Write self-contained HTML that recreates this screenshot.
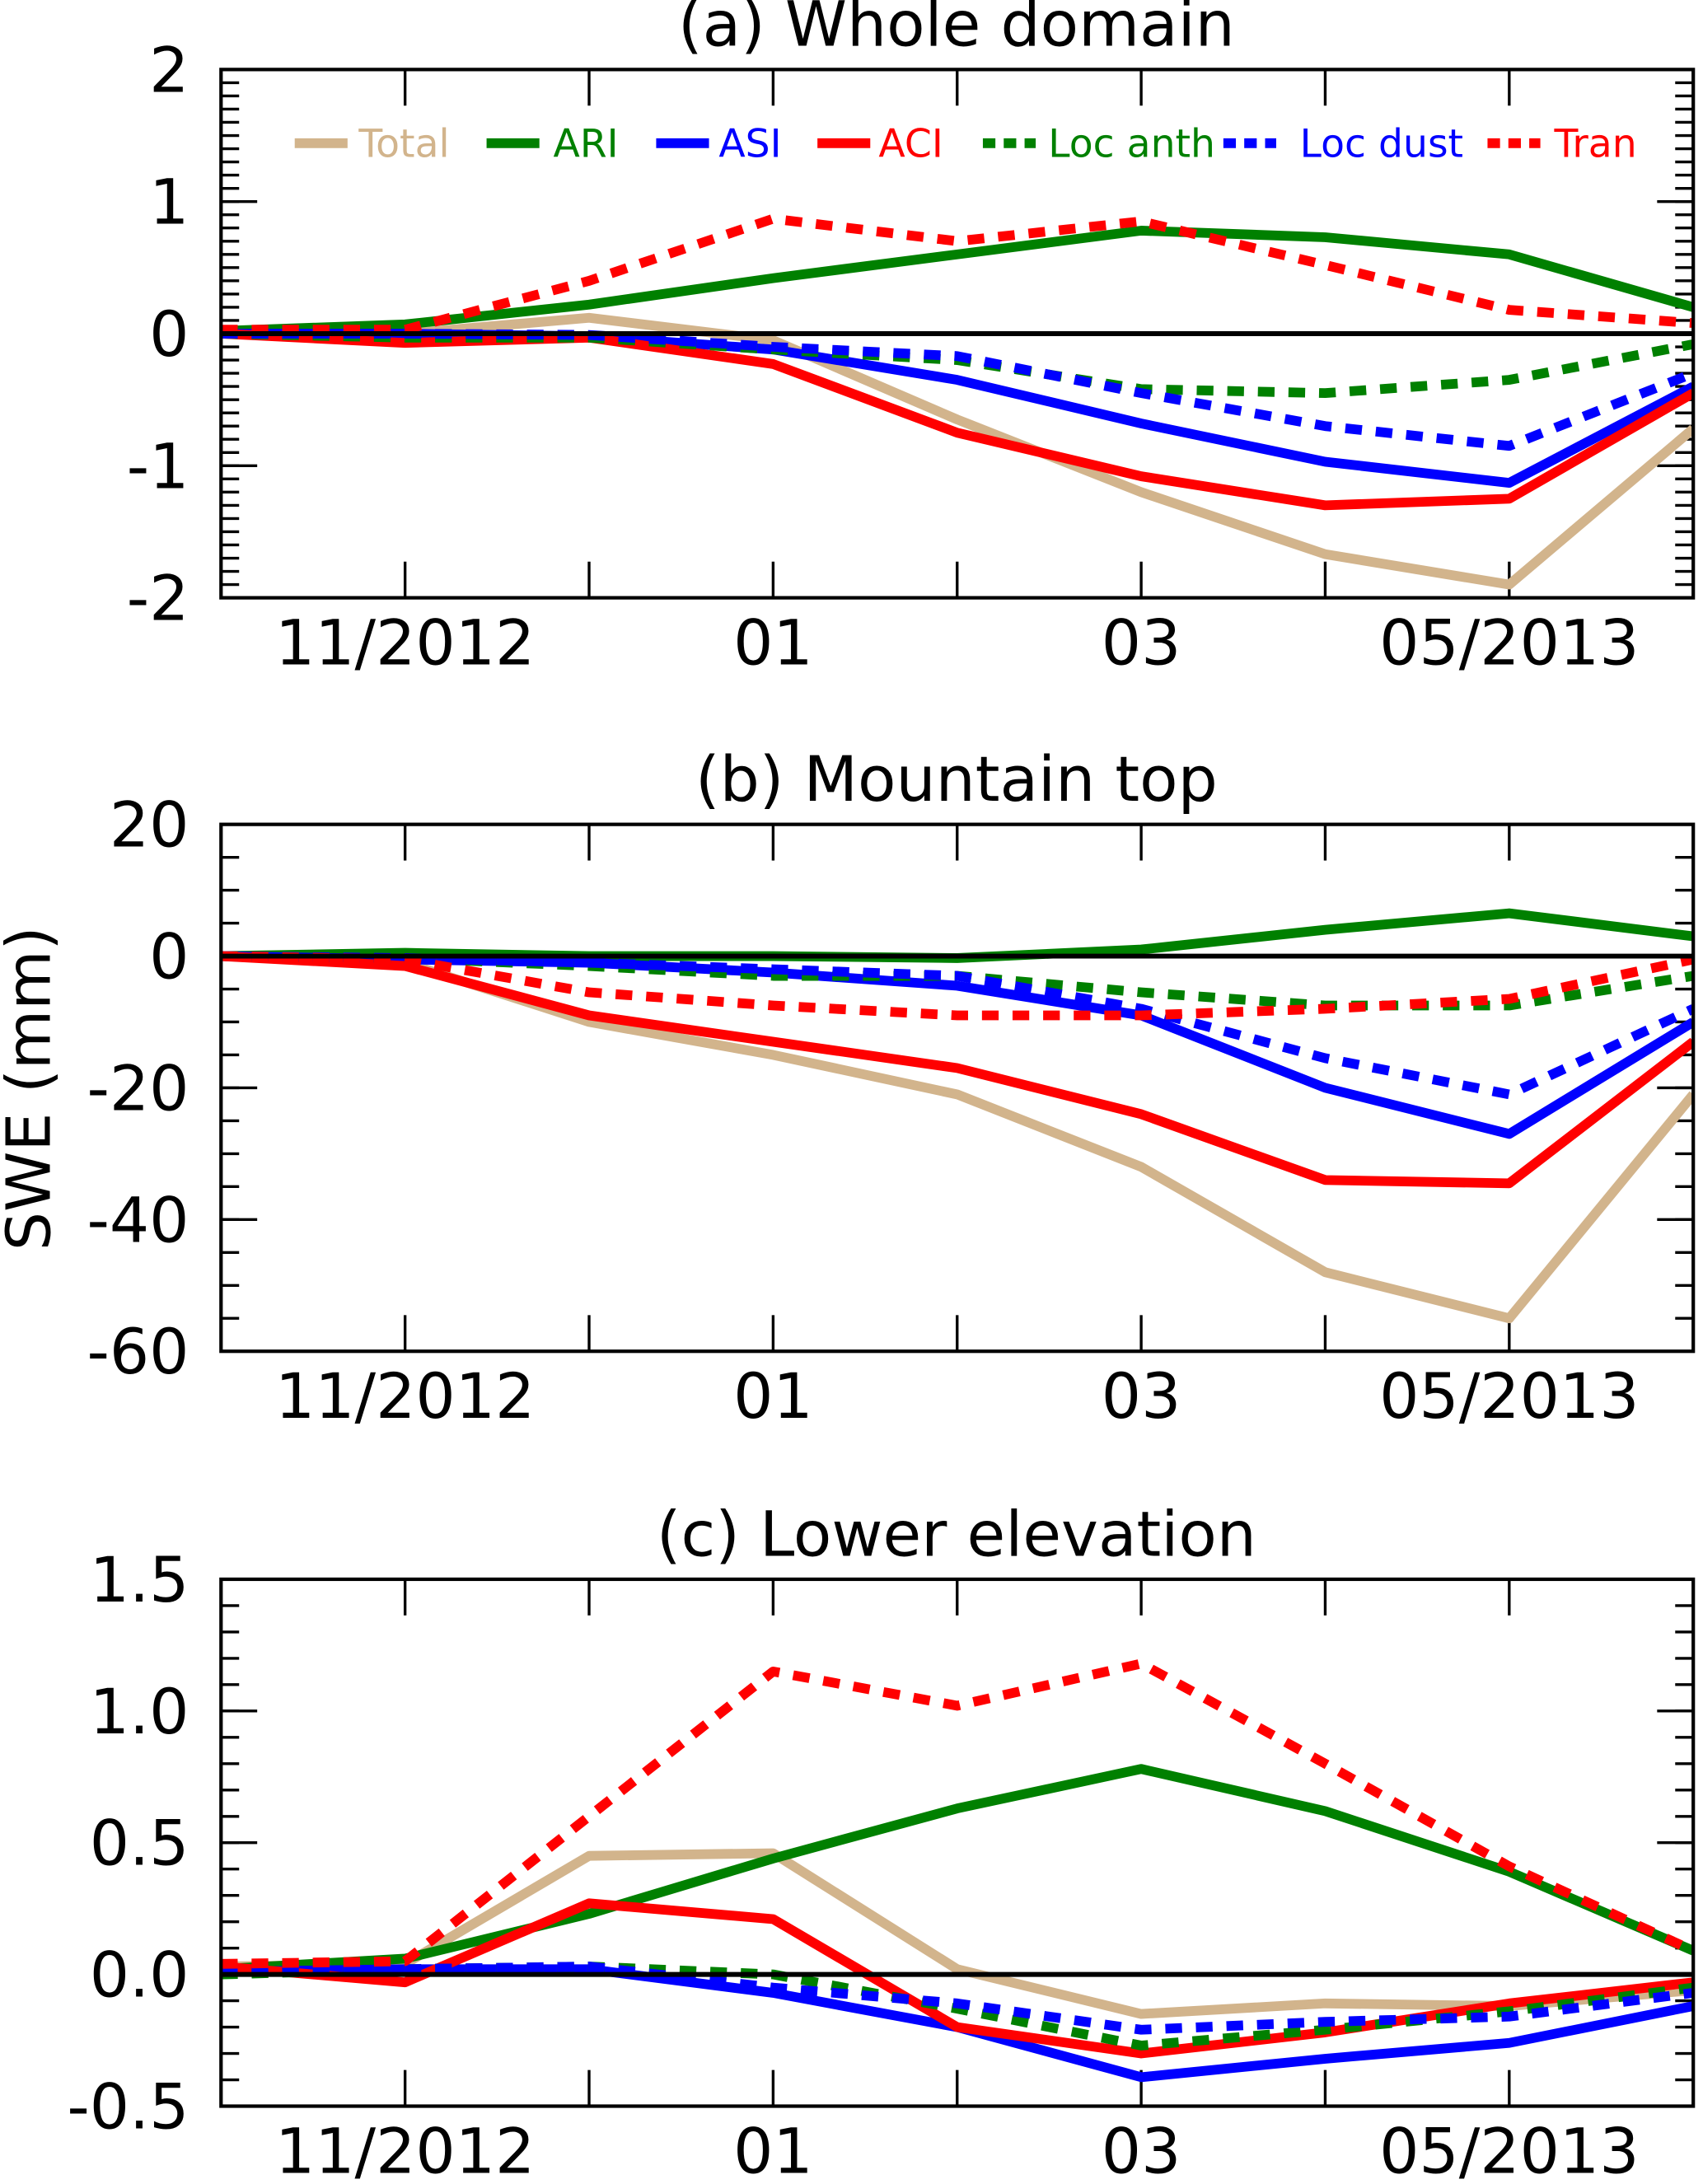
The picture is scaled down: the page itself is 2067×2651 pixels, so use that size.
<!DOCTYPE html>
<html><head><meta charset="utf-8"><style>
html,body{margin:0;padding:0;background:#fff;}
svg{display:block;font-family:"DejaVu Sans","Liberation Sans",sans-serif;}
</style></head><body>
<svg id="chart" width="2067" height="2651" viewBox="0 0 1225 1571" preserveAspectRatio="none" xmlns="http://www.w3.org/2000/svg">
<text x="0" y="0" transform="translate(36,783) rotate(-90)" text-anchor="middle" font-size="44">SWE (mm)</text>
</svg>
<script>
const months = [0,1,2,3,4,5,6,7,8];
const xTickLabels = ["11/2012","","01","","03","","05/2013"];
const seriesNames = ["Total","ARI","ASI","ACI","Loc anth","Loc dust","Tran"];
const seriesColors = ["#d2b48c","#008000","#0000ff","#ff0000","#008000","#0000ff","#ff0000"];
const seriesDashed = [false,false,false,false,true,true,true];

const aTotal = [0,0.0,0.12,-0.05,-0.65,-1.2,-1.67,-1.9,-0.72];
const aARI = [0.02,0.07,0.22,0.42,0.6,0.78,0.73,0.6,0.2];
const aASI = [0,0.0,-0.02,-0.12,-0.35,-0.68,-0.97,-1.13,-0.4];
const aACI = [0,-0.07,-0.03,-0.23,-0.75,-1.08,-1.3,-1.25,-0.45];
const aLocAnth = [0,-0.03,-0.03,-0.12,-0.2,-0.42,-0.45,-0.35,-0.08];
const aLocDust = [0,0.0,-0.01,-0.1,-0.17,-0.45,-0.7,-0.85,-0.3];
const aTran = [0.03,0.03,0.4,0.87,0.7,0.85,0.52,0.18,0.08];

const bTotal = [0,-1,-10,-15,-21,-32,-48,-55,-21];
const bARI = [0,0.5,0,0,-0.3,1,4,6.5,3];
const bASI = [0,-0.5,-1,-2.5,-4.5,-9,-20,-27,-10];
const bACI = [0,-1.5,-9,-13,-17,-24,-34,-34.5,-13];
const bLocAnth = [0,-0.3,-1.5,-3,-3,-5.5,-7.5,-7.5,-3];
const bLocDust = [0,-0.3,-1,-2,-3,-8,-15.5,-21,-8];
const bTran = [0,-0.5,-5.5,-7.5,-9,-9,-8,-6.5,-0.5];

const cTotal = [0.03,0.04,0.45,0.46,0.02,-0.15,-0.11,-0.12,-0.06];
const cARI = [0.02,0.06,0.23,0.44,0.63,0.78,0.62,0.39,0.09];
const cASI = [0.01,0.02,0.02,-0.07,-0.2,-0.39,-0.32,-0.26,-0.12];
const cACI = [0.03,-0.03,0.27,0.21,-0.2,-0.3,-0.22,-0.11,-0.03];
const cLocAnth = [0.0,0.02,0.03,0.0,-0.13,-0.27,-0.21,-0.14,-0.05];
const cLocDust = [0.01,0.02,0.03,-0.05,-0.11,-0.21,-0.18,-0.16,-0.07];
const cTran = [0.04,0.05,0.6,1.15,1.02,1.18,0.8,0.41,0.09];

const aYTicks = [-2,-1,0,1,2];
const bYTicks = [-60,-40,-20,0,20];
const cYTicks = [-0.5,0.0,0.5,1.0,1.5];
const aYTickLabels = ["-2","-1","0","1","2"];
const bYTickLabels = ["-60","-40","-20","0","20"];
const cYTickLabels = ["-0.5","0.0","0.5","1.0","1.5"];

const NS="http://www.w3.org/2000/svg";
const svg=document.getElementById('chart');
function mk(tag,attrs,parent){const e=document.createElementNS(NS,tag);for(const k in attrs)e.setAttribute(k,attrs[k]);(parent||svg).appendChild(e);return e;}

const L=159,R=1218;
function panel(id,title,top,bottom,ymin,ymax,minorStep,yTicks,yLabels,data,legend){
  const g=mk('g',{});
  
  
  const xs=v=>L+(R-L)*v/8;
  const ys=v=>bottom-(bottom-top)*(v-ymin)/(ymax-ymin);
  const t=mk('text',{x:688,y:top-17,'text-anchor':'middle','font-size':45},g);
  t.textContent=title;
  
  
  const n=Math.round((ymax-ymin)/minorStep);
  for(let i=1;i<n;i++){const v=ymin+i*minorStep;const y=ys(v);
    mk('line',{x1:L,x2:L+13,y1:y,y2:y,stroke:'#000','stroke-width':2},g);
    mk('line',{x1:R,x2:R-13,y1:y,y2:y,stroke:'#000','stroke-width':2},g);}
  yTicks.forEach((v,i)=>{const y=ys(v);
    mk('line',{x1:L,x2:L+26,y1:y,y2:y,stroke:'#000','stroke-width':2},g);
    mk('line',{x1:R,x2:R-26,y1:y,y2:y,stroke:'#000','stroke-width':2},g);
    const lb=mk('text',{x:136,y:y+16,'text-anchor':'end','font-size':45},g);
    lb.textContent=yLabels[i];
    
    });
  xTickLabels.forEach((s,i)=>{const x=xs(i+1);
    mk('line',{x1:x,x2:x,y1:top,y2:top+26,stroke:'#000','stroke-width':2},g);
    mk('line',{x1:x,x2:x,y1:bottom,y2:bottom-26,stroke:'#000','stroke-width':2},g);
    if(s){const lb=mk('text',{x:x,y:bottom+48,'text-anchor':'middle','font-size':45},g);
      lb.textContent=s;
      
      }});
  const clip=mk('clipPath',{id:'clip-'+id},g);
  mk('rect',{x:L,y:top,width:R-L,height:bottom-top},clip);
  const sg=mk('g',{'clip-path':'url(#clip-'+id+')'},g);
  data.forEach((arr,si)=>{
    const p=mk('polyline',{points:arr.map((v,i)=>xs(months[i])+','+ys(v)).join(' '),fill:'none',stroke:seriesColors[si],'stroke-width':7,'stroke-linejoin':'round','stroke-dasharray':seriesDashed[si]?'12 10':'none'},sg);
    
    
  });
  const zl=mk('line',{x1:L,x2:R,y1:ys(0),y2:ys(0),stroke:'#000','stroke-width':3.5},g);
  
  
  const fr=mk('rect',{x:L,y:top,width:R-L,height:bottom-top,fill:'none',stroke:'#000','stroke-width':2.5},g);
  
  
  if(legend){
    const lx=[212,350,472,588,707,880,1070];
    const tx=[258,398,517,632,754,935,1118];
    seriesNames.forEach((nm,i)=>{
      const lg=mk('g',{},g);
      
      
      mk('line',{x1:lx[i],x2:lx[i]+38,y1:103,y2:103,stroke:seriesColors[i],'stroke-width':7,'stroke-dasharray':seriesDashed[i]?'9 6':'none'},lg);
      const tt=mk('text',{x:tx[i],y:113,'font-size':28,fill:seriesColors[i]},lg);
      tt.textContent=nm;
    });
  }
}
panel('panel-a','(a) Whole domain',50,430,-2,2,0.1,aYTicks,aYTickLabels,[aTotal,aARI,aASI,aACI,aLocAnth,aLocDust,aTran],true);
panel('panel-b','(b) Mountain top',593,972,-60,20,5,bYTicks,bYTickLabels,[bTotal,bARI,bASI,bACI,bLocAnth,bLocDust,bTran],false);
panel('panel-c','(c) Lower elevation',1136,1515,-0.5,1.5,0.1,cYTicks,cYTickLabels,[cTotal,cARI,cASI,cACI,cLocAnth,cLocDust,cTran],false);
</script>
</body></html>
